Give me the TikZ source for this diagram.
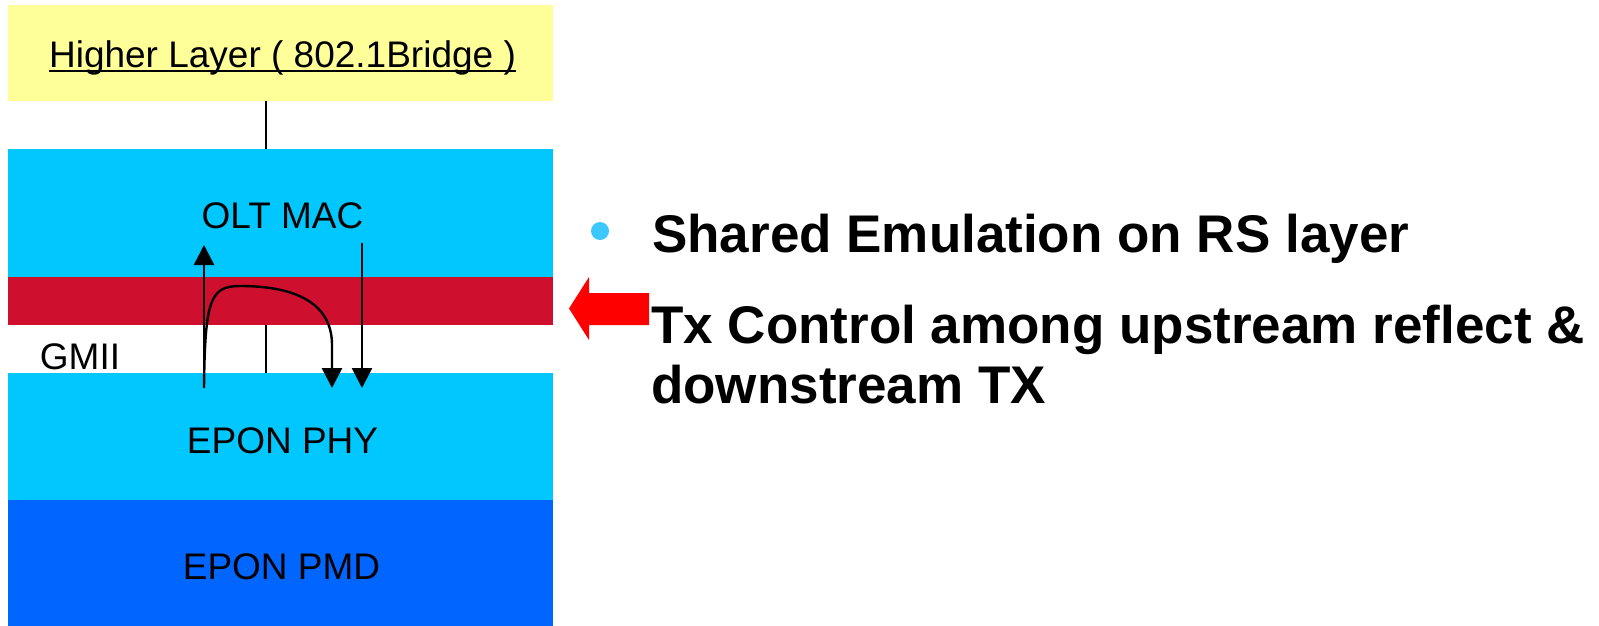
\documentclass[tikz,border=0pt]{standalone}
\usepackage{fontspec}
\setmainfont{Liberation Sans}
\usetikzlibrary{arrows.meta}

\definecolor{bridgeyellow}{HTML}{FFFF99}
\definecolor{layerblue}{HTML}{00C8FF}
\definecolor{pmdblue}{HTML}{0066FF}
\definecolor{rsred}{RGB}{206,16,46}
\definecolor{bulletblue}{HTML}{3CC8FF}
\definecolor{pointred}{HTML}{FF0000}

\tikzset{
  band/.style={draw=none, anchor=north west, minimum width=545pt, inner sep=0pt, outer sep=0pt},
  lbl/.style={anchor=base, inner sep=0pt, font=\fontsize{37}{44}\selectfont},
  point/.style={anchor=base west, inner sep=0pt, font=\fontsize{53}{60}\selectfont\bfseries},
  wire/.style={line width=2pt},
  flow/.style={line width=2.4pt, -{Triangle[length=20pt,width=20pt]}},
}

\begin{document}
\begin{tikzpicture}[x=1pt, y=-1pt]
\useasboundingbox (0,0) rectangle (1599,626);

% protocol stack
\node[band, fill=bridgeyellow, minimum height=96pt]  (bridge) at (8,5)   {};
\node[band, fill=layerblue,    minimum height=128pt] (mac)    at (8,149) {};
\node[band, fill=rsred,        minimum height=48pt]  (rs)     at (8,277) {};
\node[band, fill=layerblue,    minimum height=127pt] (phy)    at (8,373) {};
\node[band, fill=pmdblue,      minimum height=126pt] (pmd)    at (8,500) {};

\node[lbl] (bridgelbl) at (282.5,67)  {Higher Layer ( 802.1Bridge )};
\draw[line width=2pt] ([yshift=-4pt]bridgelbl.base west) -- ([yshift=-4pt]bridgelbl.base east);
\node[lbl] (maclbl)  at (282.5,228) {OLT MAC};
\node[lbl] (phylbl)  at (282.5,453) {EPON PHY};
\node[lbl] (pmdlbl)  at (281.5,579) {EPON PMD};
\node[lbl] (gmiilbl) at (80,369)    {GMII};

% service interfaces
\coordinate (tap) at (265.5,0);
\draw[wire] (bridge.south -| tap) -- (mac.north -| tap);
\draw[wire] (rs.south -| tap) -- (phy.north -| tap);

% data paths
\coordinate (upfoot) at (204,388);
\coordinate (uptip)  at (204,245);
\coordinate (dnhead) at (362,243);
\coordinate (dntip)  at (362,388);
\coordinate (rftip)  at (332,388);
\draw[flow] (upfoot) -- (uptip);
\draw[flow] (dnhead) -- (dntip);
\draw[flow] (upfoot) .. controls (205,300) and (210,286) .. (240,286)
  .. controls (290,286) and (332,300) .. (332,345) -- (rftip);

% pointer to the RS layer
\fill[pointred] (569,308.5) -- (589,277) -- (589,293) -- (649,293)
  -- (649,325) -- (589,325) -- (589,340) -- cycle;

% notes
\fill[bulletblue] (600,231) circle[radius=9];
\node[point] (note1) at (652,252) {Shared Emulation on RS layer};
\node[point] (note2) at (651,343) {Tx Control among upstream reflect \&};
\node[point] (note3) at (651,403) {downstream TX};
\end{tikzpicture}
\end{document}
